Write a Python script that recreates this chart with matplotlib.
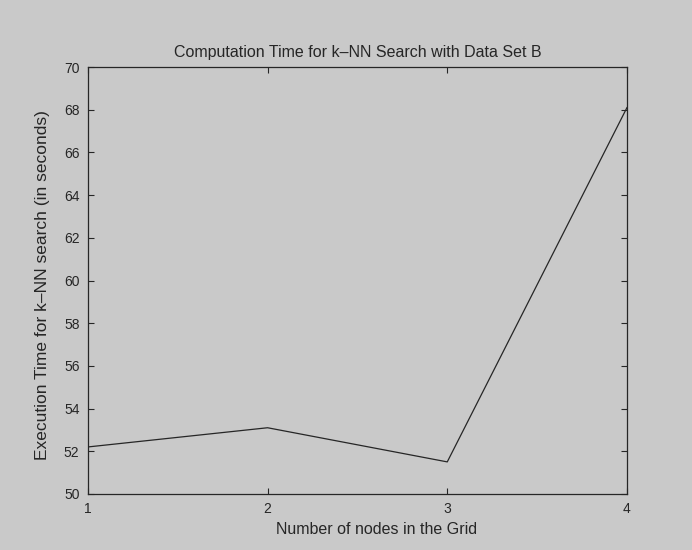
import matplotlib
matplotlib.use("Agg")
import matplotlib.pyplot as plt

# k-NN search timing on data set B, per grid size
nodes = [1, 2, 3, 4]
exec_time = [52.2, 53.1, 51.5, 68.1]

bg = "#c9c9c9"
ink = "#262626"

plt.rcParams['font.family'] = ['Liberation Sans', 'DejaVu Sans']

fig = plt.figure(figsize=(6.92, 5.5), dpi=100, facecolor=bg)
ax = fig.add_axes([0.127, 0.102, 0.779, 0.776], facecolor=bg)

ax.plot(nodes, exec_time, color=ink, linewidth=0.9)

ax.set_xlim(1, 4)
ax.set_ylim(50, 70)
ax.set_xticks(nodes)
ax.set_yticks(range(50, 71, 2))
ax.tick_params(direction='in', top=True, right=True, labelsize=10, colors=ink, length=4, pad=6)
for s in ax.spines.values():
    s.set_color(ink)
    s.set_linewidth(0.9)

ax.set_title('Computation Time for k\u2013NN Search with Data Set B', fontsize=11.5, color=ink, pad=7)
ax.set_xlabel('Number of nodes in the Grid', fontsize=11.5, color=ink)
ax.set_ylabel('Execution Time for k\u2013NN search (in seconds)', fontsize=12.5, color=ink)
ax.xaxis.set_label_coords(0.536, -0.066)
ax.yaxis.set_label_coords(-0.07, 0.489)

fig.savefig('out.png', dpi=100, facecolor=bg)
